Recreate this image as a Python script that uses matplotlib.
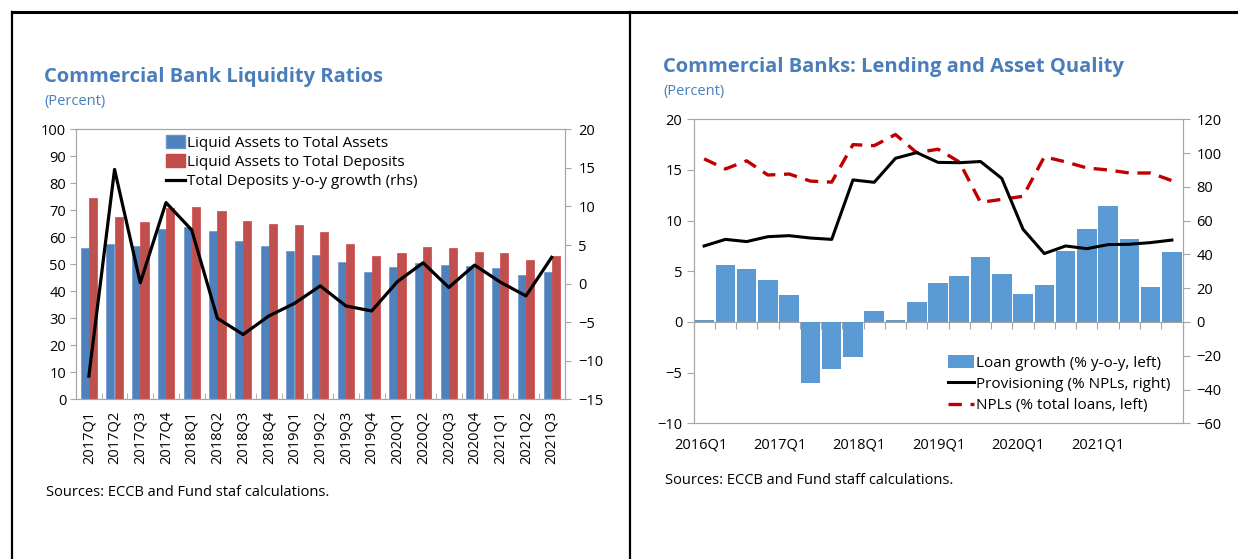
import numpy as np
import matplotlib
matplotlib.use("Agg")
import matplotlib.pyplot as plt
from matplotlib.lines import Line2D
from matplotlib.patches import Patch

plt.rcParams['font.family'] = ['Open Sans', 'DejaVu Sans']

# ---------------- data: left chart ----------------
quarters_left = ['2017Q1', '2017Q2', '2017Q3', '2017Q4', '2018Q1', '2018Q2', '2018Q3', '2018Q4',
                 '2019Q1', '2019Q2', '2019Q3', '2019Q4', '2020Q1', '2020Q2', '2020Q3', '2020Q4',
                 '2021Q1', '2021Q2', '2021Q3']
liq_to_assets = [56.2, 57.5, 56.8, 63.0, 64.0, 62.2, 58.8, 56.7, 54.8, 53.3, 51.0, 47.0,
                 49.0, 50.4, 49.6, 49.4, 48.8, 46.2, 47.2]
liq_to_deposits = [74.6, 67.4, 65.8, 71.0, 71.4, 69.8, 66.2, 64.9, 64.7, 61.9, 57.4, 53.0,
                   54.2, 56.4, 55.9, 54.7, 54.3, 51.7, 53.0]
deposit_growth = [-12.0, 14.8, 0.1, 10.5, 6.95, -4.5, -6.6, -4.2, -2.56, -0.3, -2.9, -3.55,
                  0.25, 2.7, -0.5, 2.4, 0.2, -1.6, 3.4]

# ---------------- data: right chart ----------------
quarters_right = ['2016Q1', '2016Q2', '2016Q3', '2016Q4', '2017Q1', '2017Q2', '2017Q3', '2017Q4',
                  '2018Q1', '2018Q2', '2018Q3', '2018Q4', '2019Q1', '2019Q2', '2019Q3', '2019Q4',
                  '2020Q1', '2020Q2', '2020Q3', '2020Q4', '2021Q1', '2021Q2', '2021Q3']
loan_growth = [0.15, 5.6, 5.2, 4.1, 2.65, -6.0, -4.6, -3.5, 1.1, 0.15, 1.95, 3.85, 4.57, 6.45,
               4.77, 2.76, 3.68, 7.04, 9.18, 11.45, 8.22, 3.45, 6.9]
provisioning = [45.0, 48.9, 47.6, 50.5, 51.1, 49.7, 48.9, 84.1, 82.7, 96.9, 100.3, 94.5, 94.3,
                95.0, 85.0, 54.9, 40.5, 45.0, 43.4, 45.8, 46.0, 47.0, 48.5]
npl_ratio = [16.1, 15.1, 15.9, 14.5, 14.6, 13.9, 13.8, 17.5, 17.4, 18.5, 16.7, 17.05, 15.8,
             11.8, 12.1, 12.4, 16.3, 15.8, 15.2, 15.0, 14.7, 14.7, 13.95]
right_xlabels = ['2016Q1', '2017Q1', '2018Q1', '2019Q1', '2020Q1', '2021Q1']

W, H = 1238, 559
fig = plt.figure(figsize=(W / 100, H / 100), dpi=100)

GRAY = '#A6A6A6'
TITLE_C = '#4A7EBB'
FS = 10.5
LFS = 11

def fx(px):
    return px / W

def fy(py):
    return 1 - py / H

# frame lines
fig.add_artist(Line2D([fx(12), 1], [fy(12), fy(12)], color='black', lw=2.2))
fig.add_artist(Line2D([fx(12), fx(12)], [0, fy(12)], color='black', lw=1.6))
fig.add_artist(Line2D([fx(630), fx(630)], [0, fy(12)], color='black', lw=1.6))

# ================= LEFT CHART =================
axL = fig.add_axes([fx(76), fy(399.3), fx(564.5) - fx(76), fy(129.3) - fy(399.3)])
x = np.arange(len(quarters_left))
axL.bar(x - 0.16, liq_to_assets, width=0.31, color='#4F81BD', edgecolor='#6A95C8', lw=0.5,
        label='Liquid Assets to Total Assets', zorder=2)
axL.bar(x + 0.16, liq_to_deposits, width=0.32, color='#C0504D', edgecolor='#D04545', lw=0.5,
        label='Liquid Assets to Total Deposits', zorder=2)
axL.set_xlim(-0.5, len(x) - 0.5)
axL.set_ylim(0, 100)
axL.set_yticks(np.arange(0, 101, 10))
axL.set_xticks(x)
axL.set_xticklabels(quarters_left, rotation=90, fontsize=FS)
axL.set_xticks(np.arange(len(x) + 1) - 0.5, minor=True)
axL.tick_params(axis='x', which='major', length=0, pad=8)
axL.tick_params(axis='x', which='minor', direction='in', length=4, color=GRAY)
axL.tick_params(axis='y', labelsize=FS, length=4, color=GRAY, pad=3)
for s in axL.spines.values():
    s.set_color(GRAY)

axL2 = axL.twinx()
axL2.plot(x, deposit_growth, color='black', lw=2.3, label='Total Deposits y-o-y growth (rhs)', zorder=3)
axL2.set_ylim(-15, 20)
axL2.set_yticks(np.arange(-15, 21, 5))
axL2.tick_params(axis='y', labelsize=FS, length=4, color=GRAY, pad=6)
for s in axL2.spines.values():
    s.set_color(GRAY)

handlesL = [Patch(facecolor='#4F81BD', edgecolor='#6A95C8'),
            Patch(facecolor='#C0504D', edgecolor='#D04545'),
            Line2D([0], [0], color='black', lw=2.3)]
labelsL = ['Liquid Assets to Total Assets', 'Liquid Assets to Total Deposits',
           'Total Deposits y-o-y growth (rhs)']
fig.legend(handlesL, labelsL, loc='upper left', bbox_to_anchor=(fx(166), fy(135)),
           frameon=False, fontsize=LFS, handlelength=1.25, handleheight=0.9, handletextpad=0.15,
           labelspacing=0.25, borderpad=0, borderaxespad=0)

fig.text(fx(44), fy(77), 'Commercial Bank Liquidity Ratios', fontsize=14.5, fontweight='bold',
         color=TITLE_C, va='center', ha='left')
fig.text(fx(44), fy(101), '(Percent)', fontsize=FS, color=TITLE_C, va='center', ha='left')
fig.text(fx(46), fy(492), 'Sources: ECCB and Fund staf calculations.', fontsize=FS,
         va='center', ha='left')

# ================= RIGHT CHART =================
axR = fig.add_axes([fx(693.5), fy(423.3), fx(1182.5) - fx(693.5), fy(119.3) - fy(423.3)])
xr = np.arange(len(quarters_right))
axR.bar(xr, loan_growth, width=0.92, color='#5B9BD5', zorder=2)
axR.plot(xr, npl_ratio, color='#C00000', lw=2.4, dashes=(4, 2.6), zorder=3)
axR.set_xlim(-0.5, len(xr) - 0.5)
axR.set_ylim(-10, 20)
axR.set_yticks(np.arange(-10, 21, 5))
label_pos = np.arange(len(right_xlabels)) * 3.735 - 0.17
axR.set_xticks(label_pos)
axR.set_xticklabels(right_xlabels, fontsize=FS)
axR.tick_params(axis='x', length=0, pad=10)
axR.tick_params(axis='y', labelsize=FS, length=5, color=GRAY, pad=3)
for s in axR.spines.values():
    s.set_color(GRAY)

sec = axR.secondary_xaxis(1 / 3)
sec.set_xticks(np.arange(len(xr) + 1) - 0.5)
sec.set_xticklabels([])
sec.tick_params(axis='x', length=5, color=GRAY, direction='out')
sec.spines['bottom'].set_color(GRAY)

axR2 = axR.twinx()
axR2.plot(xr, provisioning, color='black', lw=2.2, zorder=3)
axR2.set_ylim(-60, 120)
axR2.set_yticks(np.arange(-60, 121, 20))
axR2.tick_params(axis='y', labelsize=FS, length=5, color=GRAY, pad=5)
for s in axR2.spines.values():
    s.set_color(GRAY)

handlesR = [Patch(facecolor='#5B9BD5'),
            Line2D([0], [0], color='black', lw=2.2),
            Line2D([0], [0], color='#C00000', lw=2.4, dashes=(4, 2.6))]
labelsR = ['Loan growth (% y-o-y, left)', 'Provisioning (% NPLs, right)', 'NPLs (% total loans, left)']
fig.legend(handlesR, labelsR, loc='upper left', bbox_to_anchor=(fx(948), fy(355)),
           frameon=False, fontsize=LFS, handlelength=1.7, handleheight=0.9, handletextpad=0.12,
           labelspacing=0.38, borderpad=0, borderaxespad=0)

fig.text(fx(663), fy(67), 'Commercial Banks: Lending and Asset Quality', fontsize=14.5,
         fontweight='bold', color=TITLE_C, va='center', ha='left')
fig.text(fx(663), fy(91), '(Percent)', fontsize=FS, color=TITLE_C, va='center', ha='left')
fig.text(fx(665), fy(481), 'Sources: ECCB and Fund staff calculations.', fontsize=FS,
         va='center', ha='left')

fig.savefig('out.png', dpi=100)
